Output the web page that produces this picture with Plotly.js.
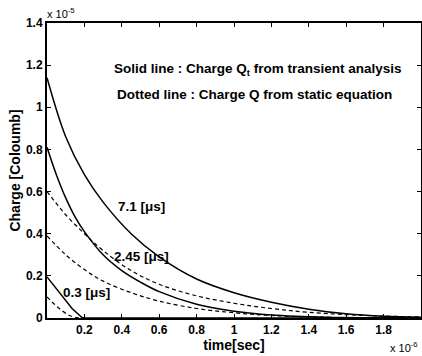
<!DOCTYPE html>
<html><head><meta charset="utf-8">
<script src="https://cdn.plot.ly/plotly-3.0.1.min.js"></script>
<style>body{margin:0;background:#fff}#c{width:422px;height:356px}</style>
</head><body><div id="c"></div>
<script>
// time in units of 1e-6 s, charge in units of 1e-5 C
const t71 = [0, 0.1, 0.2, 0.3, 0.45, 0.6, 0.8, 1.0, 1.2, 1.4, 1.6, 1.8, 2.0];
const q71 = [1.14, 0.86, 0.68, 0.55, 0.40, 0.29, 0.185, 0.12, 0.075, 0.042, 0.02, 0.008, 0.003];
const t245 = [0, 0.05, 0.1, 0.15, 0.2, 0.3, 0.4, 0.5, 0.6, 0.8, 1.0, 1.2, 1.5, 2.0];
const q245 = [0.81, 0.68, 0.57, 0.48, 0.41, 0.30, 0.225, 0.17, 0.125, 0.065, 0.032, 0.014, 0.004, 0.001];
const t03 = [0, 0.04, 0.086, 0.134, 0.19, 2.0];
const q03 = [0.195, 0.15, 0.10, 0.045, 0, 0];
const ts71 = [0, 0.1, 0.2, 0.3, 0.45, 0.6, 0.8, 1.0, 1.2, 1.4, 1.7, 2.0];
const qs71 = [0.6, 0.49, 0.40, 0.32, 0.225, 0.16, 0.105, 0.07, 0.045, 0.027, 0.012, 0.005];
const ts245 = [0, 0.1, 0.2, 0.3, 0.45, 0.6, 0.8, 1.0, 1.2, 1.5, 2.0];
const qs245 = [0.39, 0.30, 0.23, 0.175, 0.12, 0.08, 0.045, 0.025, 0.012, 0.003, 0.001];
const ts03 = [0, 0.04, 0.08, 0.12, 0.16, 0.2];
const qs03 = [0.1, 0.065, 0.035, 0.012, 0.002, 0];
const xTicks = [0.2, 0.4, 0.6, 0.8, 1, 1.2, 1.4, 1.6, 1.8, 2];
const xTickText = ["0.2","0.4","0.6","0.8","1","1.2","1.4","1.6","1.8","2"];
const yTicks = [0, 0.2, 0.4, 0.6, 0.8, 1, 1.2, 1.4];
const yTickText = ["0","0.2","0.4","0.6","0.8","1","1.2","1.4"];

const F = "Liberation Sans, Arial, sans-serif";
const solid = {color:'#000', width:1.5, shape:'spline', smoothing:1};
const dotted = {color:'#000', width:1.2, dash:'4px,3px', shape:'spline', smoothing:1};
const traces = [
  {x:t71, y:q71, mode:'lines', line:solid},
  {x:t245, y:q245, mode:'lines', line:solid},
  {x:t03, y:q03, mode:'lines', line:Object.assign({}, solid, {shape:'linear'})},
  {x:ts71, y:qs71, mode:'lines', line:dotted},
  {x:ts245, y:qs245, mode:'lines', line:dotted},
  {x:ts03, y:qs03, mode:'lines', line:dotted}
];
const axisCommon = {showgrid:false, zeroline:false, showline:true, linecolor:'#000', linewidth:2,
  mirror:'ticks', ticks:'inside', ticklen:4, tickwidth:1, tickcolor:'#000',
  tickfont:{family:F, size:12, color:'#000', weight:'bold'}};
const bold = (s) => ({family:F, size:s, color:'#000', weight:'bold'});
const layout = {
  width:422, height:356, showlegend:false,
  margin:{l:47, r:1, t:23, b:38},
  paper_bgcolor:'#fff', plot_bgcolor:'#fff',
  xaxis:Object.assign({}, axisCommon, {range:[0,2], tickvals:xTicks, ticktext:xTickText,
    title:{text:'time[sec]', font:bold(14), standoff:4}}),
  yaxis:Object.assign({}, axisCommon, {range:[0,1.4], tickvals:yTicks, ticktext:yTickText,
    title:{text:'Charge [Coloumb]', font:bold(14), standoff:2}}),
  annotations:[
    {x:1.123, y:1.177, xref:'x', yref:'y', text:'Solid line : Charge Q<sub>t</sub> from transient analysis', showarrow:false, font:bold(13.5)},
    {x:1.107, y:1.063, xref:'x', yref:'y', text:'Dotted line : Charge Q from static equation', showarrow:false, font:bold(13.5)},
    {x:0.503, y:0.527, xref:'x', yref:'y', text:'7.1 [μs]', showarrow:false, font:bold(13.5)},
    {x:0.503, y:0.29, xref:'x', yref:'y', text:'2.45 [μs]', showarrow:false, font:bold(13.5)},
    {x:0.209, y:0.119, xref:'x', yref:'y', text:'0.3 [μs]', showarrow:false, font:bold(13.5)},
    {x:-0.005, y:1.034, xref:'paper', yref:'paper', xanchor:'left', yanchor:'middle', text:'x 10<sup>-5</sup>', showarrow:false, font:{family:F, size:11, color:'#000'}},
    {x:0.997, y:-0.098, xref:'paper', yref:'paper', xanchor:'right', yanchor:'middle', text:'x 10<sup>-6</sup>', showarrow:false, font:{family:F, size:11, color:'#000'}}
  ]
};
Plotly.newPlot('c', traces, layout, {staticPlot:true, displayModeBar:false});
</script></body></html>
